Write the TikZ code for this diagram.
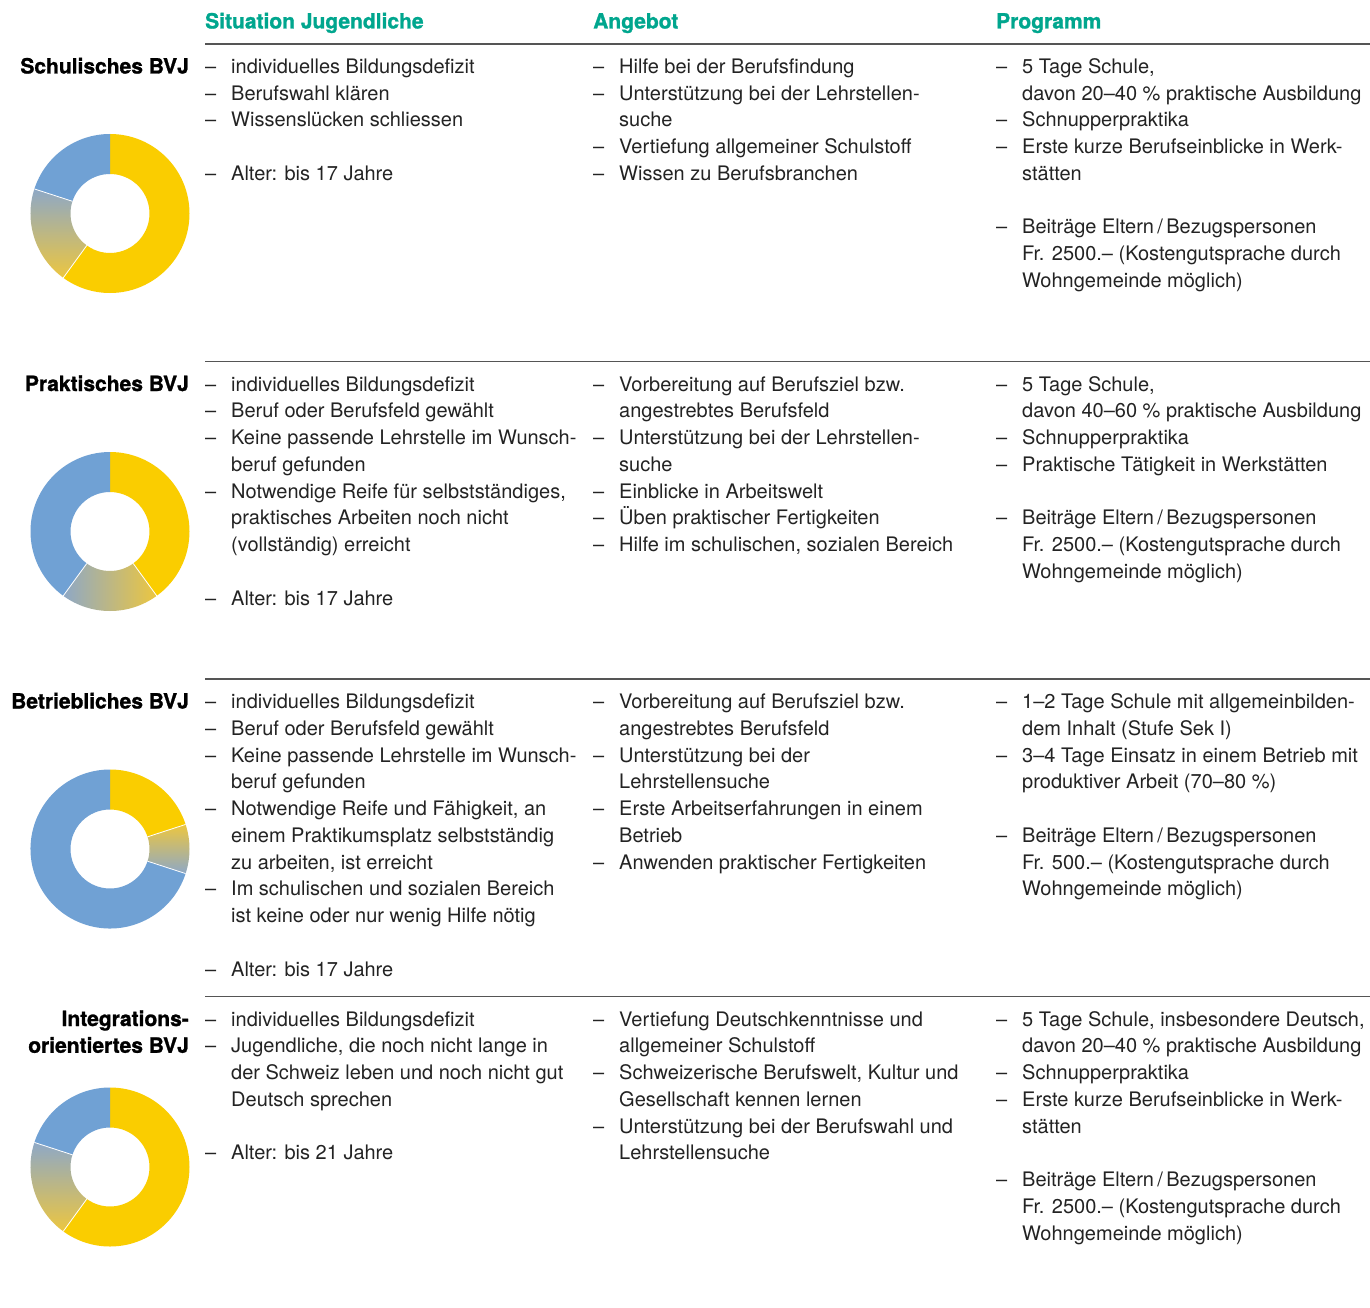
\documentclass[tikz,border=0pt]{standalone}
\usepackage{fontspec}
\setmainfont{TeX Gyre Heros}
\newfontfamily\heavyfont{TeX Gyre Heros}[BoldFeatures={FakeBold=1.2}]
\usepackage{array}
\definecolor{teal1}{RGB}{0,166,142}
\definecolor{yel}{RGB}{250,205,0}
\definecolor{blu}{RGB}{112,161,212}
\definecolor{gblue}{RGB}{142,168,198}
\definecolor{ggold}{RGB}{236,198,64}
\definecolor{rulec}{RGB}{85,85,85}
\definecolor{txtc}{RGB}{35,35,35}
\newcommand\colt[1]{\begin{tabular}[t]{@{}p{26pt}@{}l@{}}#1\end{tabular}}
\newcommand\seg[3]{\path[#1] (#2:79.5) arc[start angle=#2,end angle=#3,radius=79.5] -- (#3:39.5) arc[start angle=#3,end angle=#2,radius=39.5] -- cycle;}
\newcommand\sep[1]{\draw[white,line width=0.8pt] (#1:39.5) -- (#1:79.5);}
\tikzset{
  txt/.style={anchor=base west, inner sep=0pt, font=\fontsize{20}{26.75}\selectfont, text=txtc},
  lab/.style={anchor=base east, inner sep=0pt, font=\fontsize{21}{26.75}\selectfont\heavyfont\bfseries, text=black},
  head/.style={anchor=base west, inner sep=0pt, font=\fontsize{21}{26.75}\selectfont\heavyfont\bfseries, text=teal1},
  rulel/.style={draw=rulec, line width=1.3pt},
}
\begin{document}
\begin{tikzpicture}[x=1pt,y=1pt]
\useasboundingbox (0,0) rectangle (1370,-1308);
\fill[white] (0,0) rectangle (1370,-1308);
% headers
\node[head] (h1) at (205,-28.5) {Situation Jugendliche};
\node[head] (h2) at (593,-28.5) {Angebot};
\node[head] (h3) at (996,-28.5) {Programm};
% rules
\foreach \y [count=\i] in {44,361.5,679,996.5}{
  \coordinate (ra\i) at (205,-\y);
  \coordinate (rb\i) at (1370,-\y);
  \draw[rulel] (ra\i) -- (rb\i);
}
% ---------- Row 1
\node[lab] (l1) at (189,-73.5) {Schulisches BVJ};
\node[txt] (a1) at (205,-73.5) {\colt{%
– & individuelles Bildungsdefizit\\
– & Berufswahl klären\\
– & Wissenslücken schliessen\\
\\
– & Alter: bis 17 Jahre}};
\node[txt] (b1) at (593,-73.5) {\colt{%
– & Hilfe bei der Berufsfindung\\
– & Unterstützung bei der Lehrstellen-\\
 & suche\\
– & Vertiefung allgemeiner Schulstoff\\
– & Wissen zu Berufsbranchen}};
\node[txt] (c1) at (996,-73.5) {\colt{%
– & 5 Tage Schule,\\
 & davon 20–40 \% praktische Ausbildung\\
– & Schnupperpraktika\\
– & Erste kurze Berufseinblicke in Werk-\\
 & stätten\\
\\
– & Beiträge Eltern\,/\,Bezugspersonen\\
 & Fr. 2500.– (Kostengutsprache durch\\
 & Wohngemeinde möglich)}};
% ---------- Row 2
\node[lab] (l2) at (189,-391) {Praktisches BVJ};
\node[txt] (a2) at (205,-391) {\colt{%
– & individuelles Bildungsdefizit\\
– & Beruf oder Berufsfeld gewählt\\
– & Keine passende Lehrstelle im Wunsch-\\
 & beruf gefunden\\
– & Notwendige Reife für selbstständiges,\\
 & praktisches Arbeiten noch nicht\\
 & (vollständig) erreicht\\
\\
– & Alter: bis 17 Jahre}};
\node[txt] (b2) at (593,-391) {\colt{%
– & Vorbereitung auf Berufsziel bzw.\\
 & angestrebtes Berufsfeld\\
– & Unterstützung bei der Lehrstellen-\\
 & suche\\
– & Einblicke in Arbeitswelt\\
– & Üben praktischer Fertigkeiten\\
– & Hilfe im schulischen, sozialen Bereich}};
\node[txt] (c2) at (996,-391) {\colt{%
– & 5 Tage Schule,\\
 & davon 40–60 \% praktische Ausbildung\\
– & Schnupperpraktika\\
– & Praktische Tätigkeit in Werkstätten\\
\\
– & Beiträge Eltern\,/\,Bezugspersonen\\
 & Fr. 2500.– (Kostengutsprache durch\\
 & Wohngemeinde möglich)}};
% ---------- Row 3
\node[lab] (l3) at (189,-708.5) {Betriebliches BVJ};
\node[txt] (a3) at (205,-708.5) {\colt{%
– & individuelles Bildungsdefizit\\
– & Beruf oder Berufsfeld gewählt\\
– & Keine passende Lehrstelle im Wunsch-\\
 & beruf gefunden\\
– & Notwendige Reife und Fähigkeit, an\\
 & einem Praktikumsplatz selbstständig\\
 & zu arbeiten, ist erreicht\\
– & Im schulischen und sozialen Bereich\\
 & ist keine oder nur wenig Hilfe nötig\\
\\
– & Alter: bis 17 Jahre}};
\node[txt] (b3) at (593,-708.5) {\colt{%
– & Vorbereitung auf Berufsziel bzw.\\
 & angestrebtes Berufsfeld\\
– & Unterstützung bei der\\
 & Lehrstellensuche\\
– & Erste Arbeitserfahrungen in einem\\
 & Betrieb\\
– & Anwenden praktischer Fertigkeiten}};
\node[txt] (c3) at (996,-708.5) {\colt{%
– & 1–2 Tage Schule mit allgemeinbilden-\\
 & dem Inhalt (Stufe Sek I)\\
– & 3–4 Tage Einsatz in einem Betrieb mit\\
 & produktiver Arbeit (70–80 \%)\\
\\
– & Beiträge Eltern\,/\,Bezugspersonen\\
 & Fr. 500.– (Kostengutsprache durch\\
 & Wohngemeinde möglich)}};
% ---------- Row 4
\node[lab] (l4) at (189,-1026) {\begin{tabular}[t]{@{}r@{}}Integrations-\\orientiertes BVJ\end{tabular}};
\node[txt] (a4) at (205,-1026) {\colt{%
– & individuelles Bildungsdefizit\\
– & Jugendliche, die noch nicht lange in\\
 & der Schweiz leben und noch nicht gut\\
 & Deutsch sprechen\\
\\
– & Alter: bis 21 Jahre}};
\node[txt] (b4) at (593,-1026) {\colt{%
– & Vertiefung Deutschkenntnisse und\\
 & allgemeiner Schulstoff\\
– & Schweizerische Berufswelt, Kultur und\\
 & Gesellschaft kennen lernen\\
– & Unterstützung bei der Berufswahl und\\
 & Lehrstellensuche}};
\node[txt] (c4) at (996,-1026) {\colt{%
– & 5 Tage Schule, insbesondere Deutsch,\\
 & davon 20–40 \% praktische Ausbildung\\
– & Schnupperpraktika\\
– & Erste kurze Berufseinblicke in Werk-\\
 & stätten\\
\\
– & Beiträge Eltern\,/\,Bezugspersonen\\
 & Fr. 2500.– (Kostengutsprache durch\\
 & Wohngemeinde möglich)}};
% ---------- Donuts
\coordinate (d1) at (110,-213.5);
\coordinate (d2) at (110,-531.5);
\coordinate (d3) at (110,-849);
\coordinate (d4) at (110,-1167);
\begin{scope}[shift={(d1)}]
  \seg{fill=yel}{90}{-126}
  \seg{shade,top color=gblue,bottom color=ggold}{-126}{-198}
  \seg{fill=blu}{-198}{-270}
  \sep{-126}\sep{-198}
\end{scope}
\begin{scope}[shift={(d2)}]
  \seg{fill=yel}{90}{-54}
  \seg{shade,left color=gblue,right color=ggold}{-54}{-126}
  \seg{fill=blu}{-126}{-270}
  \sep{-54}\sep{-126}
\end{scope}
\begin{scope}[shift={(d3)}]
  \seg{fill=yel}{90}{18}
  \seg{shade,top color=ggold,bottom color=gblue}{18}{-18}
  \seg{fill=blu}{-18}{-270}
  \sep{18}\sep{-18}
\end{scope}
\begin{scope}[shift={(d4)}]
  \seg{fill=yel}{90}{-126}
  \seg{shade,top color=gblue,bottom color=ggold}{-126}{-198}
  \seg{fill=blu}{-198}{-270}
  \sep{-126}\sep{-198}
\end{scope}
\end{tikzpicture}
\end{document}
